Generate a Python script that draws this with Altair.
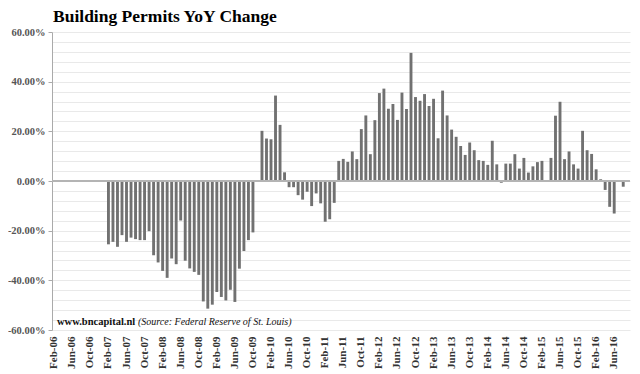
import altair as alt
import pandas as pd

MONTH_NAMES = ["Jan", "Feb", "Mar", "Apr", "May", "Jun", "Jul", "Aug", "Sep", "Oct", "Nov", "Dec"]

# category axis: Feb-06 .. Sep-16
months = []
y, m = 2006, 1
while (y, m) <= (2016, 8):
    months.append(f"{MONTH_NAMES[m]}-{str(y)[2:]}")
    m += 1
    if m == 12:
        m = 0
        y += 1

# YoY change in percent, Feb-07 .. Aug-16
values_2007 = [-25.5, -24.5, -26.5, -21.8, -24.5, -22.8, -23.4, -23.8, -23.8, -20.2, -29.9]
values_2008 = [-32.8, -36.2, -39.0, -31.2, -33.5, -15.9, -32.1, -35.2, -36.6, -37.8, -48.5, -51.4]
values_2009 = [-49.8, -44.7, -46.7, -48.1, -43.8, -48.7, -35.3, -28.2, -23.8, -20.7, -0.4, 20.2]
values_2010 = [17.1, 16.8, 34.4, 22.6, 3.5, -2.5, -2.5, -5.7, -7.5, -4.3, -10.1, -5.0]
values_2011 = [-9.0, -16.4, -15.4, -8.8, 8.1, 8.9, 7.7, 11.9, 8.8, 20.9, 26.4, 10.8]
values_2012 = [24.5, 35.4, 37.2, 29.1, 31.0, 24.6, 35.6, 29.0, 51.6, 33.8, 32.3, 35.0]
values_2013 = [30.2, 33.1, 17.2, 36.4, 26.4, 20.7, 17.8, 14.1, 10.5, 15.5, 12.4, 8.4]
values_2014 = [8.1, 6.5, 16.2, 6.7, -0.7, 7.0, 7.0, 10.8, 5.0, 9.3, 3.4, 5.9]
values_2015 = [7.6, 8.1, -0.4, 9.3, 26.3, 31.9, 8.8, 11.9, 6.7, 5.0, 20.2, 12.4]
values_2016 = [10.9, 4.7, 0.7, -3.6, -10.4, -13.1, 0.3, -2.3]

values = (values_2007 + values_2008 + values_2009 + values_2010 + values_2011
          + values_2012 + values_2013 + values_2014 + values_2015 + values_2016)
start = months.index("Feb-07")
bar_months = months[start:start + len(values)]

tick_labels = months[::4]
grid_values = list(range(-60, 61, 4))

df = pd.DataFrame({"month": bar_months, "value": values})
one = pd.DataFrame({"k": [0]})

SERIF = "Liberation Serif"
W, H = 578, 298

bars = alt.Chart(df).mark_bar(color="#717171").encode(
    x=alt.X(
        "month:O",
        sort=months,
        scale=alt.Scale(domain=months, paddingInner=0.36, paddingOuter=0.18),
        axis=alt.Axis(
            values=tick_labels, labelAngle=270, labelFont=SERIF, labelFontWeight="bold",
            labelFontSize=11, labelColor="#333333", domain=False, ticks=False,
            grid=False, labelPadding=6, title=None, labelOverlap=False,
        ),
    ),
    y=alt.Y(
        "value:Q",
        scale=alt.Scale(domain=[-60, 60], nice=False, zero=False),
        axis=alt.Axis(
            values=grid_values, tickCount=len(grid_values) + 5, title=None, grid=True,
            gridColor="#e9e9e9", gridWidth=1,
            labelExpr="round(datum.value) % 20 == 0 ? (datum.value < 0 ? '-' : '') + format(abs(datum.value), '.2f') + '%' : ''",
            labelFont=SERIF, labelFontWeight="bold", labelFontSize=10.5, labelColor="#555555",
            domainColor="#aaaaaa", tickColor="#aaaaaa", tickSize=4, labelPadding=3,
            labelOverlap=False, labelBound=False, labelFlush=False,
            tickOpacity={"condition": {"test": "round(datum.value) % 20 == 0", "value": 1}, "value": 0},
        ),
    ),
)

zero = alt.Chart(one).mark_rule(color="#b4b4b4", strokeWidth=2).encode(y=alt.datum(0))

site = alt.Chart(one).mark_text(
    text="www.bncapital.nl", font=SERIF, fontWeight="bold", fontSize=10.5,
    align="left", baseline="middle", color="#111111",
).encode(x=alt.value(5), y=alt.value(290))

source = alt.Chart(one).mark_text(
    text="(Source: Federal Reserve of St. Louis)", font=SERIF, fontStyle="italic", fontSize=10,
    align="left", baseline="middle", color="#111111",
).encode(x=alt.value(86), y=alt.value(290))

chart = alt.layer(bars, zero, site, source).properties(
    width=W,
    height=H,
    title=alt.TitleParams(
        "Building Permits YoY Change", font=SERIF, fontWeight="bold", fontSize=17.5,
        anchor="start", frame="group", color="#000000", offset=2, dx=1,
    ),
    autosize=alt.AutoSizeParams(type="none"),
    padding={"left": 44, "top": 24, "right": 2, "bottom": 40},
).configure_view(stroke=None)

chart.save("out.html", embed_options={"renderer": "svg", "actions": False})
